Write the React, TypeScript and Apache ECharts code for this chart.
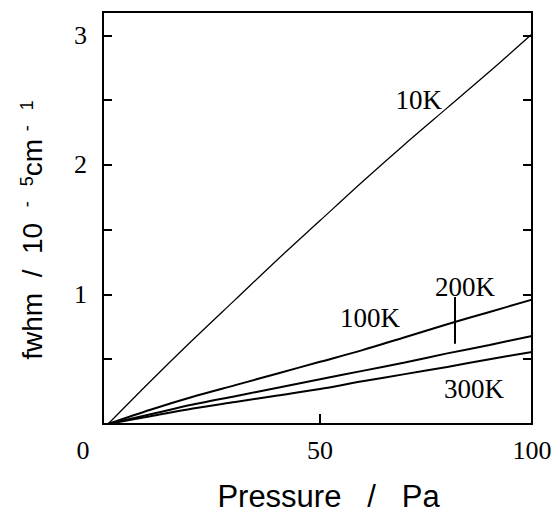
import React, { useEffect, useRef } from 'react';
import * as echarts from 'echarts';

// Pressure / Pa
const pressure = [0, 10, 20, 30, 40, 50, 60, 70, 80, 90, 100];
// fwhm / 10^-5 cm^-1
const fwhm10K = [0, 0.33, 0.65, 0.96, 1.27, 1.57, 1.87, 2.16, 2.44, 2.72, 3.01];
const fwhm100K = [0, 0.11, 0.21, 0.30, 0.39, 0.48, 0.57, 0.67, 0.77, 0.865, 0.96];
const fwhm200K = [0, 0.075, 0.15, 0.215, 0.28, 0.345, 0.41, 0.475, 0.545, 0.61, 0.68];
const fwhm300K = [0, 0.06, 0.12, 0.17, 0.22, 0.27, 0.33, 0.385, 0.44, 0.5, 0.555];

const seriesNames = ['10K', '100K', '200K', '300K'];
const xTickLabels = [0, 50, 100];
const xTicks = [50];
const yTickLabels = [1, 2, 3];
const yTicks = [0.5, 1, 1.5, 2, 2.5, 3];

// where each curve's name is written (data coordinates)
const labelPressure = [73.3, 61.8, 84.2, 86.3];
const labelFwhm = [2.5, 0.82, 1.06, 0.27];
// pointer line for 200K
const pointerPressure = 81.8;
const pointerFwhm = [0.62, 0.98];

const SERIF = "'Liberation Serif', 'Times New Roman', serif";
const SANS = "'Liberation Sans', Arial, sans-serif";
const NB = '\u00a0';

export default function App() {
  const ref = useRef<HTMLDivElement>(null);
  useEffect(() => {
    if (!ref.current) return;
    const chart = echarts.init(ref.current, undefined, { renderer: 'svg' });
    const all = [fwhm10K, fwhm100K, fwhm200K, fwhm300K];
    const widths = [1.3, 2, 2, 2];
    const series: any[] = all.map((arr, i) => {
      const s: any = {
        name: seriesNames[i],
        type: 'line',
        xAxisIndex: 0,
        yAxisIndex: 0,
        data: pressure.map((p, j) => [p, arr[j]]),
        showSymbol: false,
        symbol: 'none',
        smooth: 0.3,
        lineStyle: { color: '#000', width: widths[i] },
        markPoint: {
          silent: true,
          symbol: 'circle',
          symbolSize: 1,
          itemStyle: { color: 'rgba(0,0,0,0)' },
          label: {
            show: true,
            position: 'inside',
            formatter: seriesNames[i],
            fontFamily: SERIF,
            fontSize: 27,
            color: '#000',
          },
          data: [{ coord: [labelPressure[i], labelFwhm[i]], value: seriesNames[i] }],
        },
      };
      if (seriesNames[i] === '200K') {
        s.markLine = {
          silent: true,
          symbol: ['none', 'none'],
          label: { show: false },
          lineStyle: { color: '#000', width: 2, type: 'solid' },
          data: [[{ coord: [pointerPressure, pointerFwhm[0]] }, { coord: [pointerPressure, pointerFwhm[1]] }]],
        };
      }
      return s;
    });

    const frameLine = { show: true, onZero: false, lineStyle: { color: '#000', width: 2 } };
    const sp = (n: number) => NB.repeat(n);

    chart.setOption({
      animation: false,
      backgroundColor: '#fff',
      grid: { left: 103, right: 24, top: 12, bottom: 92, containLabel: false },
      xAxis: [
        {
          type: 'value',
          position: 'bottom',
          min: -1.2,
          max: 100,
          axisLine: frameLine,
          axisTick: { show: true, inside: true, length: 10, customValues: xTicks, lineStyle: { color: '#000', width: 2 } },
          axisLabel: {
            customValues: xTickLabels,
            margin: 13,
            fontFamily: SERIF,
            fontSize: 26,
            color: '#000',
            formatter: (v: number) => (v === 0 ? '{z|0}' : String(v)),
            rich: { z: { padding: [0, 50, 0, 0], fontFamily: SERIF, fontSize: 26, color: '#000' } },
          },
          splitLine: { show: false },
          name: 'Pressure' + sp(3) + '/' + sp(3) + 'Pa',
          nameLocation: 'middle',
          nameGap: 57,
          nameTextStyle: { fontFamily: SANS, fontSize: 31, color: '#000', padding: [0, 0, 0, 22] },
        },
        {
          type: 'value',
          position: 'top',
          min: -1.2,
          max: 100,
          axisLine: frameLine,
          axisTick: { show: false },
          axisLabel: { show: false },
          splitLine: { show: false },
        },
      ],
      yAxis: [
        {
          type: 'value',
          position: 'left',
          min: 0,
          max: 3.18,
          axisLine: frameLine,
          axisTick: { show: true, inside: true, length: 9, customValues: yTicks, lineStyle: { color: '#000', width: 2 } },
          axisLabel: { customValues: yTickLabels, margin: 16, fontFamily: SERIF, fontSize: 26, color: '#000' },
          splitLine: { show: false },
          name: 'fwhm' + sp(2) + '/' + sp(2) + '10' + sp(2) + '{sup|-' + sp(3) + '5}cm' + sp(1) + '{sup|-' + sp(3) + '1}',
          nameLocation: 'middle',
          nameRotate: 90,
          nameGap: 57,
          nameTextStyle: {
            fontFamily: SANS,
            fontSize: 28,
            color: '#000',
            padding: [0, 24, 0, 0],
            rich: { sup: { fontFamily: SANS, fontSize: 18, color: '#000', verticalAlign: 'top' } },
          },
        },
        {
          type: 'value',
          position: 'right',
          min: 0,
          max: 3.18,
          axisLine: frameLine,
          axisTick: { show: true, inside: true, length: 9, customValues: yTicks, lineStyle: { color: '#000', width: 2 } },
          axisLabel: { show: false },
          splitLine: { show: false },
        },
      ],
      series,
    });
    return () => chart.dispose();
  }, []);
  return <div ref={ref} style={{ position: 'fixed', left: 0, top: 0, width: 556, height: 517 }} />;
}
